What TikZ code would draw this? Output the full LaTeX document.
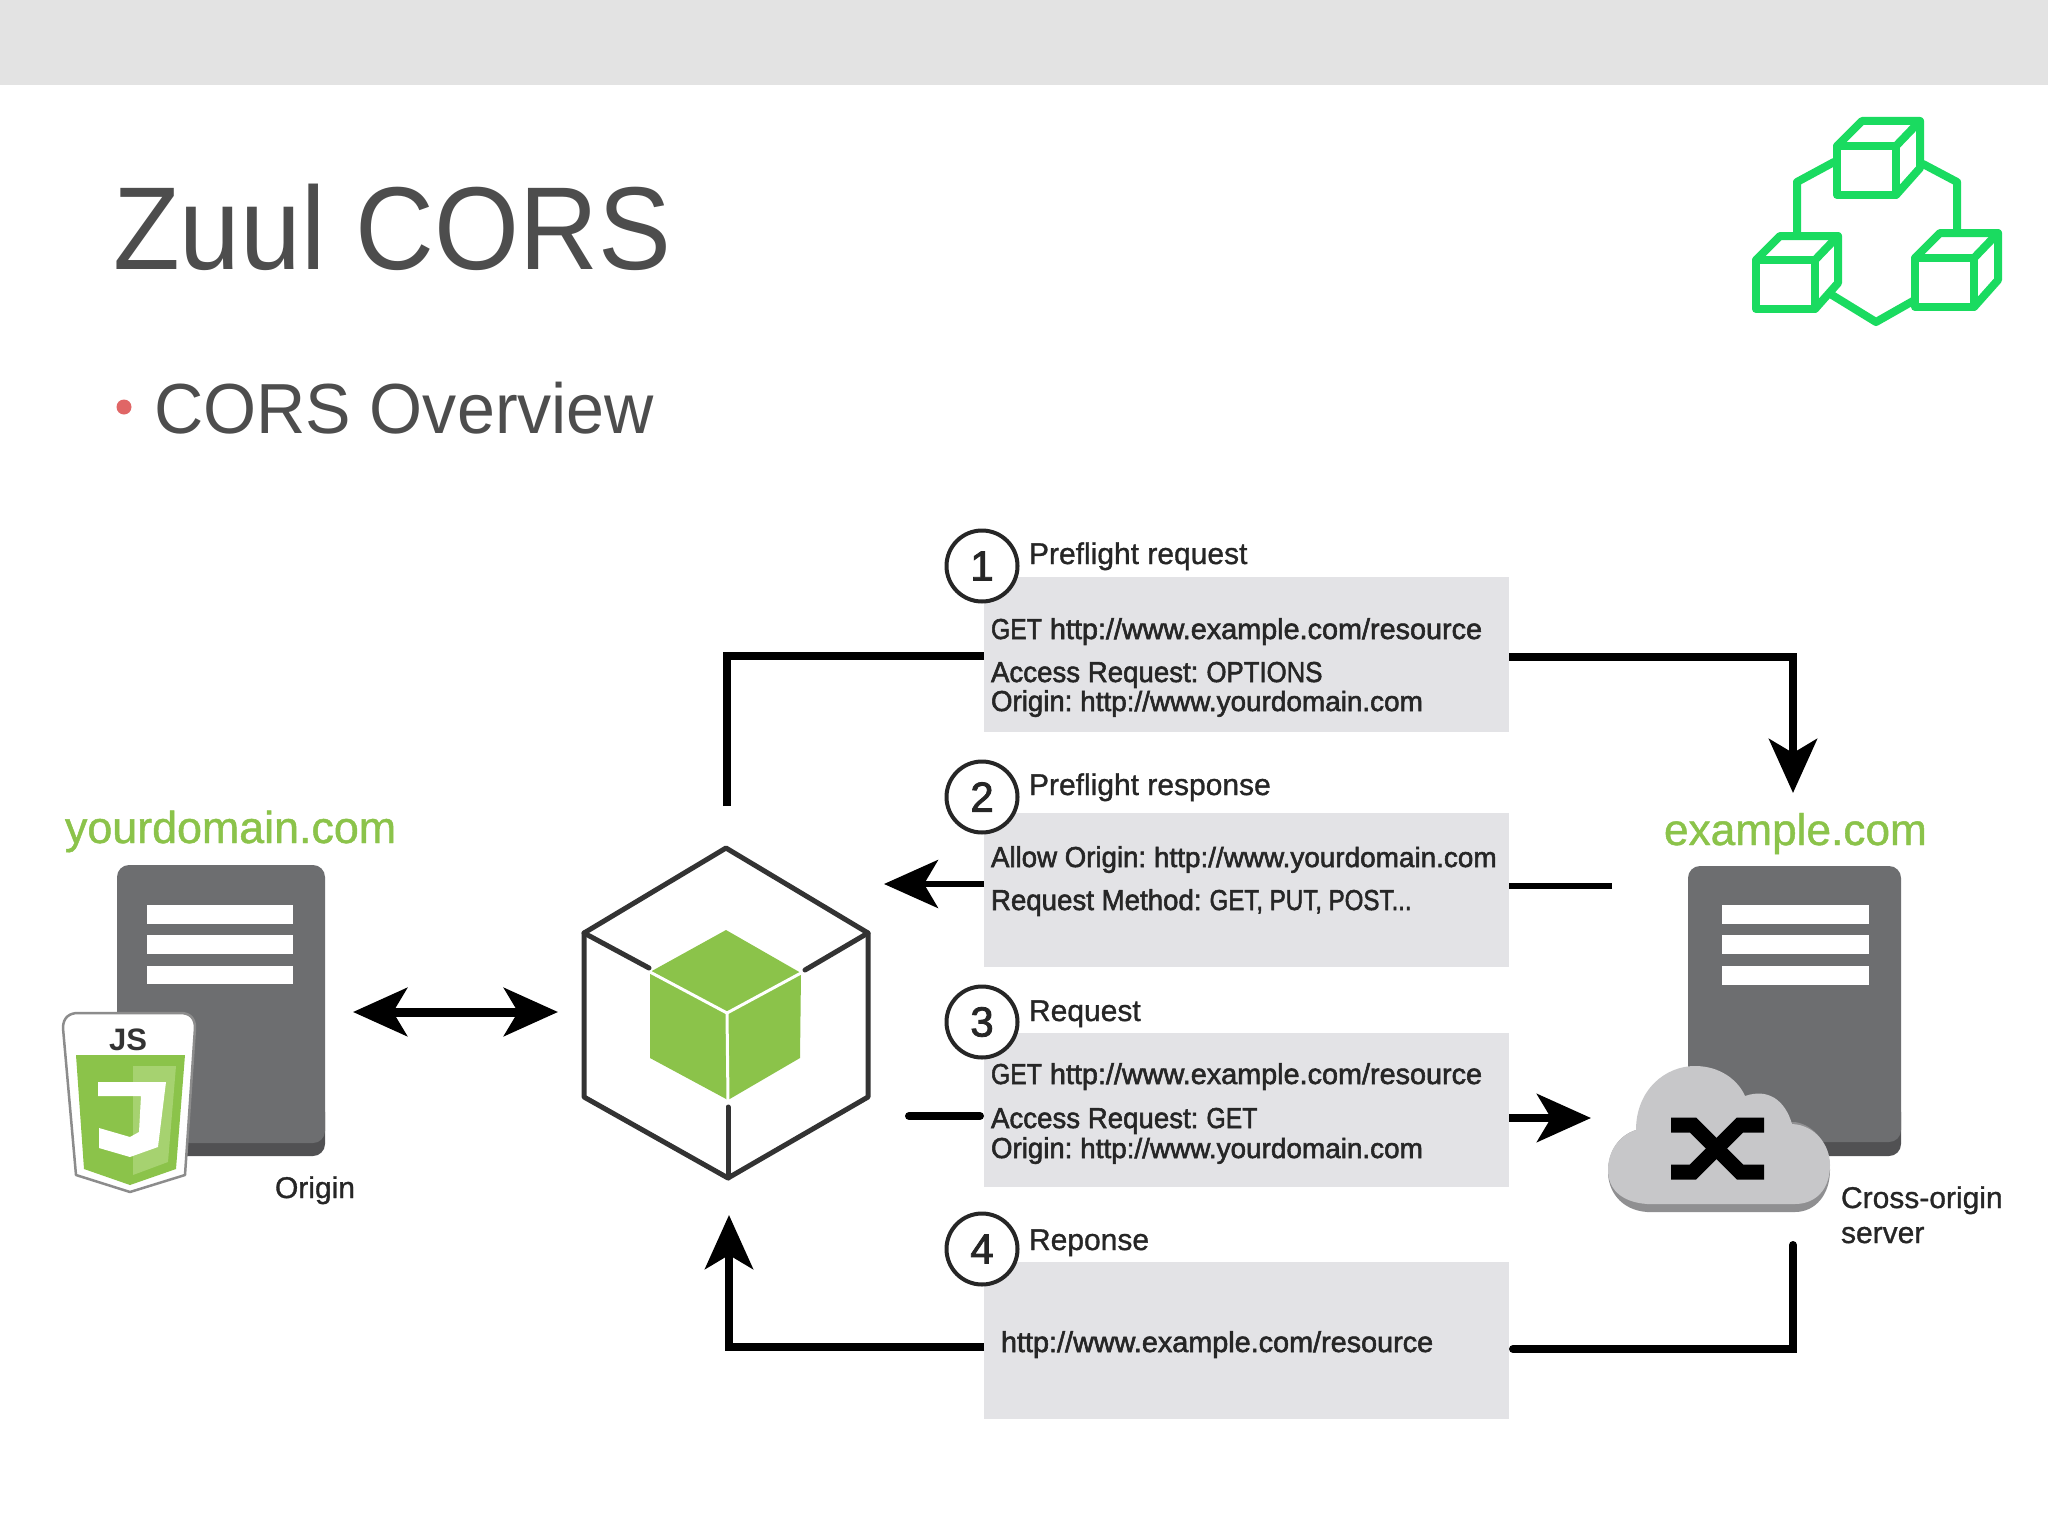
\documentclass[tikz,border=0pt]{standalone}
\usepackage{fontspec}
\setmainfont{Liberation Sans}
\newfontfamily\blurfont[FakeBold=2]{Liberation Sans}
\newfontfamily\softfont[FakeBold=1]{Liberation Sans}
\usetikzlibrary{arrows.meta}
\definecolor{bandgrey}{HTML}{E3E3E3}
\definecolor{titlegrey}{HTML}{4D4D4D}
\definecolor{bulletred}{HTML}{E06666}
\definecolor{logogreen}{HTML}{1ADB60}
\definecolor{leafgreen}{HTML}{8BC34A}
\definecolor{leaflight}{HTML}{A6D270}
\definecolor{boxgrey}{HTML}{E3E3E6}
\definecolor{servergrey}{HTML}{6D6E70}
\definecolor{serverdark}{HTML}{515153}
\definecolor{cloudgrey}{HTML}{C7C7C9}
\definecolor{clouddark}{HTML}{8F8F91}
\definecolor{inkdark}{HTML}{262626}
\definecolor{hullgrey}{HTML}{333333}
\newcommand{\exsize}{\fontsize{28.8}{32}\selectfont}
\newcommand{\yosize}{\fontsize{27.9}{32}\selectfont}
\newcommand{\sq}[2]{\scalebox{#1}[1]{#2}}
\frenchspacing
\tikzset{
  every node/.style={inner sep=0pt,outer sep=0pt},
  txt/.style={anchor=base west,text=inkdark,font=\blurfont\frenchspacing\yosize},
  lbl/.style={anchor=base west,text=inkdark,font=\softfont\frenchspacing\fontsize{30}{34}\selectfont},
  domainlabel/.style={anchor=base west,text=leafgreen,font=\softfont\fontsize{44.8}{50}\selectfont},
  panel/.style={anchor=north west,fill=boxgrey,minimum width=525pt},
  badge/.style={circle,draw=inkdark,fill=white,line width=4pt,minimum size=71pt,font=\blurfont\fontsize{42}{46}\selectfont,text=inkdark},
  conn/.style={line width=8pt,draw=black},
  connarrow/.style={conn,-{Stealth[length=54pt,width=48pt,inset=14pt]}},
  logoline/.style={draw=logogreen,line width=8pt,line join=round,line cap=round},
  serverbody/.style={fill=servergrey,rounded corners=12pt},
  bar/.style={fill=white},
  hull/.style={draw=hullgrey,line width=5pt,line join=round,line cap=round},
  seam/.style={draw=white,line width=3pt,line cap=round},
}
\begin{document}
\begin{tikzpicture}[x=1pt,y=-1pt]
\useasboundingbox (0,0) rectangle (2048,1536);
\fill[white] (0,0) rectangle (2048,1536);
\fill[bandgrey] (0,0) rectangle (2048,85);

% heading
\node[anchor=base west,text=titlegrey,font=\fontsize{109.2}{120}\selectfont] (title) at (113,269) {\scalebox{1}[1.08]{Zuul CORS}};
\node[circle,fill=bulletred,minimum size=15pt] (bullet) at (124,407) {};
\node[anchor=base west,text=titlegrey,font=\fontsize{68.2}{76}\selectfont] (subtitle) at (154,433) {\scalebox{1}[1.04]{CORS Overview}};

% logo
\foreach \fx/\fy/\bx/\by in {1837/146/1862/121,1756/260/1780/236,1915/258/1940/233}{
  \draw[logoline] (\fx,\fy) rectangle ++(59,49);
  \draw[logoline] (\fx,\fy) -- (\bx,\by) -- ++(58,0) -- ++(0,47) -- (\fx+59,\fy+49);
  \draw[logoline] (\fx+59,\fy) -- (\bx+58,\by);
}
\draw[logoline] (1834,162) -- (1797,182) -- (1797,233);
\draw[logoline] (1923,164) -- (1957,182) -- (1957,230);
\draw[logoline] (1832,295) -- (1876,322) -- (1913,301);

% panels
\node[panel,minimum height=155pt] (box1) at (984,577) {};
\node[panel,minimum height=154pt] (box2) at (984,813) {};
\node[panel,minimum height=154pt] (box3) at (984,1033) {};
\node[panel,minimum height=157pt] (box4) at (984,1262) {};

% badges
\node[badge] (n1) at (982,566) {1};
\node[badge] (n2) at (982,797) {2};
\node[badge] (n3) at (982,1022) {3};
\node[badge] (n4) at (982,1249) {4};

% labels
\node[lbl] (l1) at (1029,564) {Preflight request};
\node[lbl] (l2) at (1029,795) {Preflight response};
\node[lbl] (l3) at (1029,1021) {Request};
\node[lbl] (l4) at (1029,1250) {Reponse};

% panel text
\node[txt] (t11) at (991,639) {\exsize\sq{.86}{GET} http://www.example.com/resource};
\node[txt] (t12) at (991,682) {\exsize\sq{.96}{Access Request:} \sq{.895}{OPTIONS}};
\node[txt] (t13) at (991,711) {\sq{.96}{\exsize Origin:} http://www.yourdomain.com};
\node[txt] (t21) at (991,867) {\sq{.96}{\exsize Allow Origin:} http://www.yourdomain.com};
\node[txt] (t22) at (991,910) {\exsize\sq{.96}{Request Method:} \sq{.836}{GET, PUT, POST...}};
\node[txt] (t31) at (991,1084) {\exsize\sq{.86}{GET} http://www.example.com/resource};
\node[txt] (t32) at (991,1128) {\exsize\sq{.96}{Access Request:} \sq{.86}{GET}};
\node[txt] (t33) at (991,1158) {\sq{.96}{\exsize Origin:} http://www.yourdomain.com};
\node[txt] (t41) at (1001,1352) {\exsize http://www.example.com/resource};

% left server
\node[domainlabel] (dom1) at (65,843) {yourdomain.com};
\fill[serverdark,rounded corners=12pt] (117,1100) rectangle (325,1156);
\node[anchor=north west,serverbody,minimum width=208pt,minimum height=278pt] (srv1) at (117,865) {};
\fill[bar] (147,905) rectangle (293,924);
\fill[bar] (147,935) rectangle (293,954);
\fill[bar] (147,966) rectangle (293,984);

% JS shield
\fill[white,draw=black!45,line width=2.5pt,line join=round] (63,1028) .. controls (63,1017) and (70,1013) .. (78,1013) -- (180,1013) .. controls (190,1013) and (195,1018) .. (195,1028) -- (185,1175) -- (130,1192) -- (76,1175) -- cycle;
\fill[leafgreen] (76,1055) -- (185,1055) -- (176,1169) -- (130,1185) -- (84,1169) -- cycle;
\fill[leaflight] (133,1066) -- (176,1066) -- (168,1162) -- (133,1175) -- cycle;
\fill[white] (98,1082) -- (166,1082) -- (158,1147) -- (130,1157) -- (99,1148) -- (99,1128) -- (130,1137) -- (139,1132) -- (141,1096) -- (98,1096) -- cycle;
\node[anchor=base,text=hullgrey,font=\bfseries\fontsize{31}{34}\selectfont] (js) at (128,1050) {JS};
\node[lbl] (origin) at (275,1198) {Origin};

% central cube
\coordinate (hTop) at (726,848);
\coordinate (hLT) at (584,933);
\coordinate (hRT) at (868,933);
\coordinate (hLB) at (584,1097);
\coordinate (hRB) at (868,1097);
\coordinate (hBot) at (728,1178);
\draw[hull] (hTop) -- (hRT) -- (hRB) -- (hBot) -- (hLB) -- (hLT) -- cycle;
\draw[hull] (hLT) -- (649,968);
\draw[hull] (hRT) -- (805,970);
\draw[hull] (728,1107) -- (hBot);
\fill[leafgreen,line join=round] (726,930) -- (801,973) -- (800,1058) -- (728,1100) -- (650,1058) -- (650,972) -- cycle;
\draw[seam] (650,972) -- (727,1013) -- (801,973);
\draw[seam] (727,1013) -- (728,1100);

% right server
\node[domainlabel,font=\softfont\fontsize{44.2}{50}\selectfont] (dom2) at (1664,845) {example.com};
\fill[serverdark,rounded corners=12pt] (1688,1100) rectangle (1901,1156);
\node[anchor=north west,serverbody,minimum width=213pt,minimum height=276pt] (srv2) at (1688,866) {};
\fill[bar] (1722,905) rectangle (1869,924);
\fill[bar] (1722,935) rectangle (1869,954);
\fill[bar] (1722,966) rectangle (1869,985);

% cloud
\fill[clouddark] (1647,1212) .. controls (1620,1210) and (1608,1190) .. (1608,1172) .. controls (1608,1150) and (1620,1135) .. (1636,1130) -- (1795,1122) .. controls (1815,1125) and (1830,1145) .. (1830,1170) .. controls (1830,1195) and (1815,1212) .. (1795,1212) -- cycle;
\fill[cloudgrey] (1647,1204) .. controls (1620,1202) and (1608,1188) .. (1608,1170) .. controls (1608,1150) and (1620,1135) .. (1636,1130) .. controls (1636,1090) and (1665,1066) .. (1695,1066) .. controls (1720,1066) and (1738,1080) .. (1745,1096) .. controls (1768,1088) and (1785,1100) .. (1792,1124) .. controls (1815,1125) and (1830,1145) .. (1830,1165) .. controls (1830,1190) and (1815,1204) .. (1795,1204) -- cycle;
\draw[black,line width=15pt,miter limit=4] (1671,1125) -- (1693,1125) -- (1740,1172) -- (1764,1172);
\draw[black,line width=15pt,miter limit=4] (1671,1172) -- (1693,1172) -- (1740,1125) -- (1764,1125);
\node[lbl] (cross) at (1841,1208) {Cross-origin};
\node[lbl] (crossb) at (1841,1243) {server};

% connector ends
\coordinate (a1) at (727,806);
\coordinate (a1c) at (727,656);
\coordinate (b1c) at (1793,657);
\coordinate (b1) at (1793,793);
\coordinate (a2) at (884,884);
\coordinate (b2) at (1612,886);
\coordinate (a3) at (909,1116);
\coordinate (b3) at (1591,1118);
\coordinate (a4) at (729,1215);
\coordinate (a4c) at (729,1347);
\coordinate (b4c) at (1793,1349);
\coordinate (b4) at (1793,1245);
\coordinate (d1) at (353,1012);
\coordinate (d2) at (558,1012);

% connectors
\draw[conn,line join=miter] (a1) -- (a1c) -- (box1.west |- a1c);
\draw[connarrow] (box1.east |- b1c) -- (b1c) -- (b1);
\draw[conn,line width=6pt] (b2) -- (box2.east |- b2);
\draw[connarrow,line width=6pt] (box2.west |- a2) -- (a2);
\draw[conn,line cap=round,shorten >=4pt] (a3) -- (box3.west |- a3);
\draw[connarrow] (box3.east |- b3) -- (b3);
\draw[conn,line cap=round,shorten >=4pt] (b4) -- (b4c) -- (box4.east |- b4c);
\draw[connarrow] (box4.west |- a4c) -- (a4c) -- (a4);
\draw[line width=9pt,{Stealth[length=54pt,width=48pt,inset=14pt]}-{Stealth[length=54pt,width=48pt,inset=14pt]}] (d1) -- (d2);
\end{tikzpicture}
\end{document}
